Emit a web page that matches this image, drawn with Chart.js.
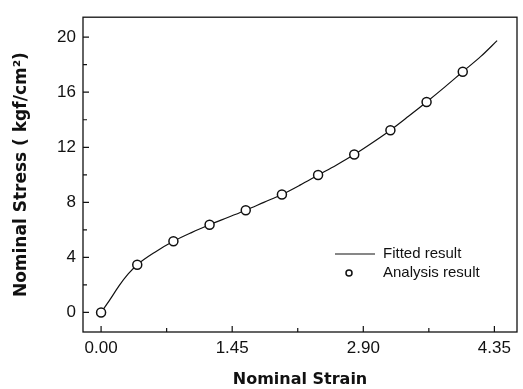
<!DOCTYPE html>
<html>
<head>
<meta charset="utf-8">
<script src="https://cdn.jsdelivr.net/npm/chart.js@4.4.0/dist/chart.umd.min.js"></script>
<style>
  html, body { margin: 0; padding: 0; background: #fff; }
  canvas { display: block; }
</style>
</head>
<body>
<canvas id="stressChart" width="523" height="389"></canvas>
<script>
// analysis result (circles)
const strainPts = [0, 0.4, 0.8, 1.2, 1.6, 2.0, 2.4, 2.8, 3.2, 3.6, 4.0];
const stressPts = [0, 3.47, 5.17, 6.37, 7.43, 8.57, 9.98, 11.47, 13.24, 15.29, 17.49];

// fitted result (solid curve)
const fitStrain = [0, 0.1, 0.2, 0.3, 0.4, 0.6, 0.8, 1.0, 1.2, 1.4, 1.6, 1.8, 2.0, 2.2, 2.4, 2.6, 2.8, 3.0, 3.2, 3.4, 3.6, 3.8, 4.0, 4.2, 4.38];
const fitStress = [0, 0.95, 1.95, 2.8, 3.47, 4.4, 5.17, 5.8, 6.37, 6.9, 7.43, 8.0, 8.57, 9.25, 9.98, 10.7, 11.47, 12.33, 13.24, 14.25, 15.29, 16.37, 17.49, 18.6, 19.75];

const xTicks = [0, 1.45, 2.9, 4.35];
const yTicks = [0, 4, 8, 12, 16, 20];

const ink = '#111';
const tickFont = { family: "'Liberation Sans', Arial, sans-serif", size: 17 };

function toPoints(xs, ys) {
  return xs.map((x, i) => ({ x: x, y: ys[i] }));
}

// frame, inward ticks and the in-plot legend
const framePlugin = {
  id: 'frame',
  afterDraw(chart) {
    const { ctx, chartArea: a, scales } = chart;
    const xs = scales.x, ys = scales.y;
    ctx.save();
    ctx.strokeStyle = ink;
    ctx.lineWidth = 1.3;
    ctx.strokeRect(a.left, a.top, a.right - a.left, a.bottom - a.top);

    ctx.lineWidth = 1.2;
    ctx.beginPath();
    xTicks.forEach((v, i) => {
      const px = xs.getPixelForValue(v);
      ctx.moveTo(px, a.bottom);
      ctx.lineTo(px, a.bottom - 6);
      if (i < xTicks.length - 1) {
        const mx = xs.getPixelForValue((v + xTicks[i + 1]) / 2);
        ctx.moveTo(mx, a.bottom);
        ctx.lineTo(mx, a.bottom - 4);
      }
    });
    yTicks.forEach((v, i) => {
      const py = ys.getPixelForValue(v);
      ctx.moveTo(a.left, py);
      ctx.lineTo(a.left + 6, py);
      if (i < yTicks.length - 1) {
        const my = ys.getPixelForValue((v + yTicks[i + 1]) / 2);
        ctx.moveTo(a.left, my);
        ctx.lineTo(a.left + 4, my);
      }
    });
    ctx.stroke();

    // legend
    const lx = a.right - 182, ly = a.bottom - 78;
    ctx.lineWidth = 1.2;
    ctx.beginPath();
    ctx.moveTo(lx, ly);
    ctx.lineTo(lx + 40, ly);
    ctx.stroke();
    ctx.beginPath();
    ctx.lineWidth = 1.5;
    ctx.fillStyle = '#fff';
    ctx.arc(lx + 14, ly + 19, 3, 0, Math.PI * 2);
    ctx.fill();
    ctx.stroke();

    ctx.fillStyle = ink;
    ctx.font = "15px 'Liberation Sans', Arial, sans-serif";
    ctx.textBaseline = 'middle';
    ctx.textAlign = 'left';
    ctx.fillText('Fitted result', lx + 48, ly);
    ctx.fillText('Analysis result', lx + 48, ly + 19);
    ctx.restore();
  }
};

const chart = new Chart(document.getElementById('stressChart').getContext('2d'), {
  type: 'scatter',
  data: {
    datasets: [
      {
        label: 'Analysis result',
        data: toPoints(strainPts, stressPts),
        order: 0,
        showLine: false,
        pointStyle: 'circle',
        pointRadius: 4.5,
        pointBorderWidth: 1.5,
        pointBackgroundColor: '#fff',
        pointBorderColor: ink
      },
      {
        label: 'Fitted result',
        data: toPoints(fitStrain, fitStress),
        order: 1,
        showLine: true,
        borderColor: ink,
        borderWidth: 1.2,
        pointRadius: 0,
        cubicInterpolationMode: 'monotone',
        fill: false
      }
    ]
  },
  options: {
    responsive: false,
    animation: false,
    layout: { padding: { top: 9, right: 3, left: 0, bottom: 0 } },
    plugins: {
      legend: { display: false },
      tooltip: { enabled: false }
    },
    scales: {
      x: {
        type: 'linear',
        min: -0.2,
        max: 4.6,
        afterBuildTicks: s => { s.ticks = xTicks.map(v => ({ value: v })); },
        afterFit: s => { s.height = 57; },
        grid: { display: false, drawTicks: false },
        border: { display: false },
        ticks: {
          color: ink,
          font: tickFont,
          padding: 6,
          maxRotation: 0,
          callback: v => Number(v).toFixed(2)
        },
        title: {
          display: true,
          text: 'Nominal Strain',
          color: ink,
          font: { family: "'DejaVu Sans', sans-serif", size: 16, weight: 'bold' },
          padding: { top: 0, bottom: 0 }
        }
      },
      y: {
        type: 'linear',
        min: -1.42,
        max: 21.45,
        afterBuildTicks: s => { s.ticks = yTicks.map(v => ({ value: v })); },
        afterFit: s => { s.width = 83; },
        grid: { display: false, drawTicks: false },
        border: { display: false },
        ticks: {
          color: ink,
          font: tickFont,
          padding: 7
        },
        title: {
          display: true,
          text: 'Nominal Stress ( kgf/cm\u00B2)',
          color: ink,
          font: { family: "'DejaVu Sans', sans-serif", size: 17, weight: 'bold' },
          padding: { top: 11, bottom: 0 }
        }
      }
    }
  },
  plugins: [framePlugin]
});
</script>
</body>
</html>
